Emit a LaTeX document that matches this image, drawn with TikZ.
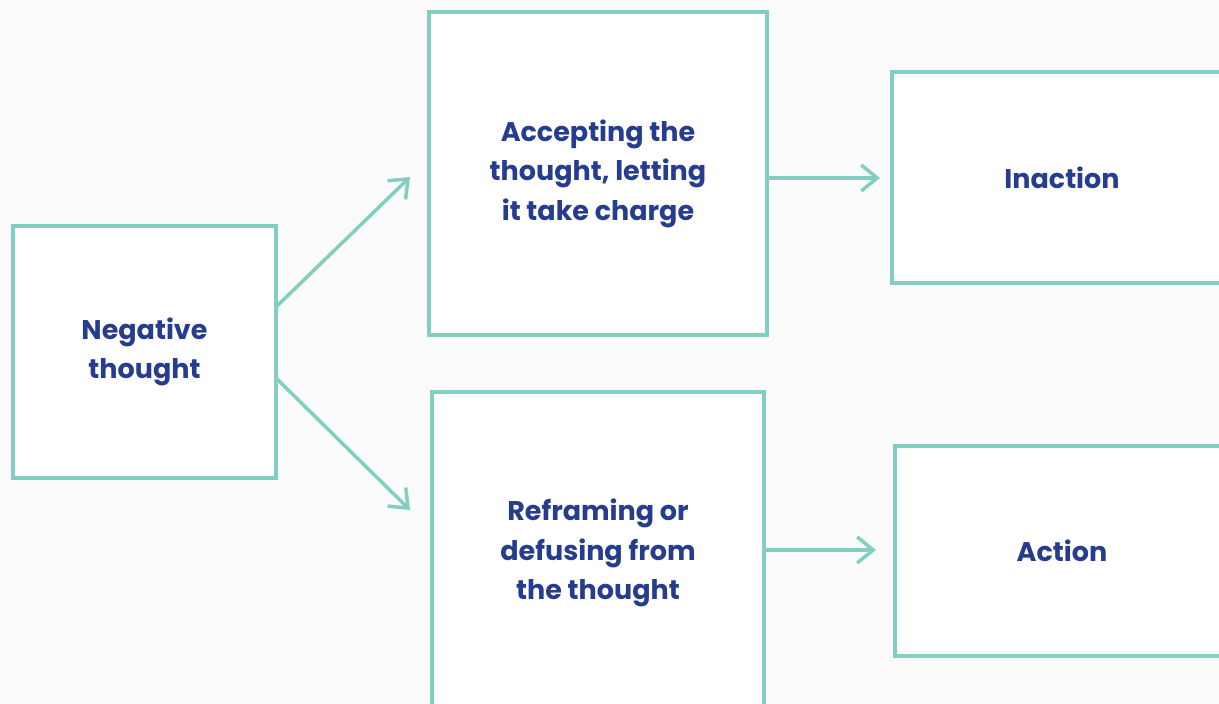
\documentclass[tikz,border=0pt]{standalone}
\usepackage{fontspec}
\setmainfont{Poppins}[UprightFont=*-Bold,BoldFont=*-Bold]
\usetikzlibrary{arrows.meta}
\definecolor{teal}{HTML}{82CFC2}
\definecolor{navy}{HTML}{263C8E}
\definecolor{bg}{HTML}{FBFBFB}
\tikzset{
  box/.style={draw=teal, line width=3.5pt, fill=white, inner sep=0pt, align=center,
    text=navy, font=\fontsize{27}{39.5}\selectfont},
  conn/.style={draw=teal, line width=3.5pt, -{Straight Barb[length=16pt,width=26pt,line width=3.5pt]}}
}
\begin{document}
\begin{tikzpicture}[x=1pt,y=-1pt]
\useasboundingbox (0,0) rectangle (1219,704);
\fill[bg] (0,0) rectangle (1219,704);
\clip (0,0) rectangle (1219,704);
\node[box, minimum width=263pt, minimum height=252pt] (neg) at (144.5,352) {Negative\\thought};
\node[box, minimum width=338pt, minimum height=323pt] (acc) at (598,173.5) {Accepting the\\thought, letting\\it take charge};
\node[box, minimum width=340pt, minimum height=211pt] (inact) at (1062,177.5) {Inaction};
\node[box, minimum width=332pt, minimum height=322pt] (ref) at (598,553) {Reframing or\\defusing from\\the thought};
\node[box, minimum width=334pt, minimum height=210pt] (act) at (1062,551) {Action};
\coordinate (n1) at (276,307);
\coordinate (n2) at (276,378);
\coordinate (t1) at (410,177);
\coordinate (t2) at (410,510);
\coordinate (t3) at (880,178);
\coordinate (t4) at (876,550);
\draw[conn] (n1) -- (t1);
\draw[conn] (n2) -- (t2);
\draw[conn] (acc.east |- t3) -- (t3);
\draw[conn] (ref.east |- t4) -- (t4);
\end{tikzpicture}
\end{document}
